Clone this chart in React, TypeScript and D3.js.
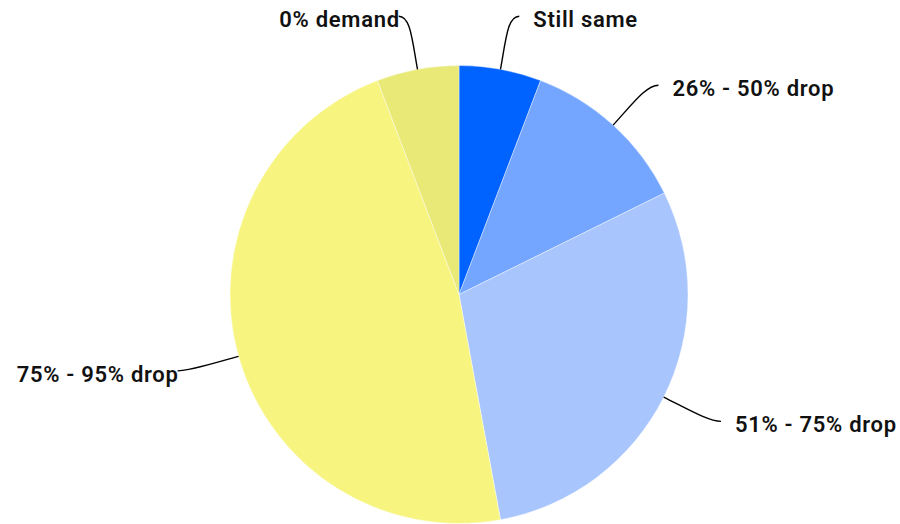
import React from "react";
import * as d3 from "d3";

const categories = ["Still same", "26% - 50% drop", "51% - 75% drop", "75% - 95% drop", "0% demand"];
const values = [5.8, 11.9, 29.4, 47.1, 5.8];
const colors = ["#0062FF", "#74A5FF", "#A8C5FD", "#F7F580", "#E8E977"];

const W = 900;
const H = 524;
const cx = 459;
const cy = 294.5;
const R = 229;

export default function App() {
  const pie = d3.pie<number>().sort(null).value((d) => d)(values);
  const arc = d3.arc<d3.PieArcDatum<number>>().innerRadius(0).outerRadius(R);

  return (
    <svg width={W} height={H} style={{ position: "absolute", left: 0, top: 0, background: "#fff" }}>
      <g transform={`translate(${cx},${cy})`}>
        {pie.map((p, i) => (
          <path key={i} d={arc(p) || ""} fill={colors[i]} stroke="#fff" strokeWidth={0.4} />
        ))}
        {pie.map((p, i) => {
          const a = (p.startAngle + p.endAngle) / 2;
          const ux = Math.sin(a);
          const uy = -Math.cos(a);
          const sx = ux * R;
          const sy = uy * R;
          const right = ux >= 0;
          const sgn = right ? 1 : -1;
          const ex = sx + ux * 54 + sgn * 9;
          const ey = sy + uy * 54;
          const c1x = sx + ux * 30;
          const c1y = sy + uy * 30;
          const c2x = ex - sgn * 12;
          const c2y = ey;
          const tx = right ? ex + 14 : ex + 1;
          return (
            <g key={"l" + i}>
              <path
                d={`M${sx},${sy} C${c1x},${c1y} ${c2x},${c2y} ${ex},${ey}`}
                fill="none"
                stroke="#000"
                strokeWidth={1.4}
              />
              <text
                x={tx}
                y={ey + 11}
                textAnchor={right ? "start" : "end"}
                fontFamily="Roboto, 'Noto Sans', sans-serif"
                fontWeight={600}
                fontSize={22}
                letterSpacing={0.7}
                fill="#111"
              >
                {categories[i]}
              </text>
            </g>
          );
        })}
      </g>
    </svg>
  );
}
